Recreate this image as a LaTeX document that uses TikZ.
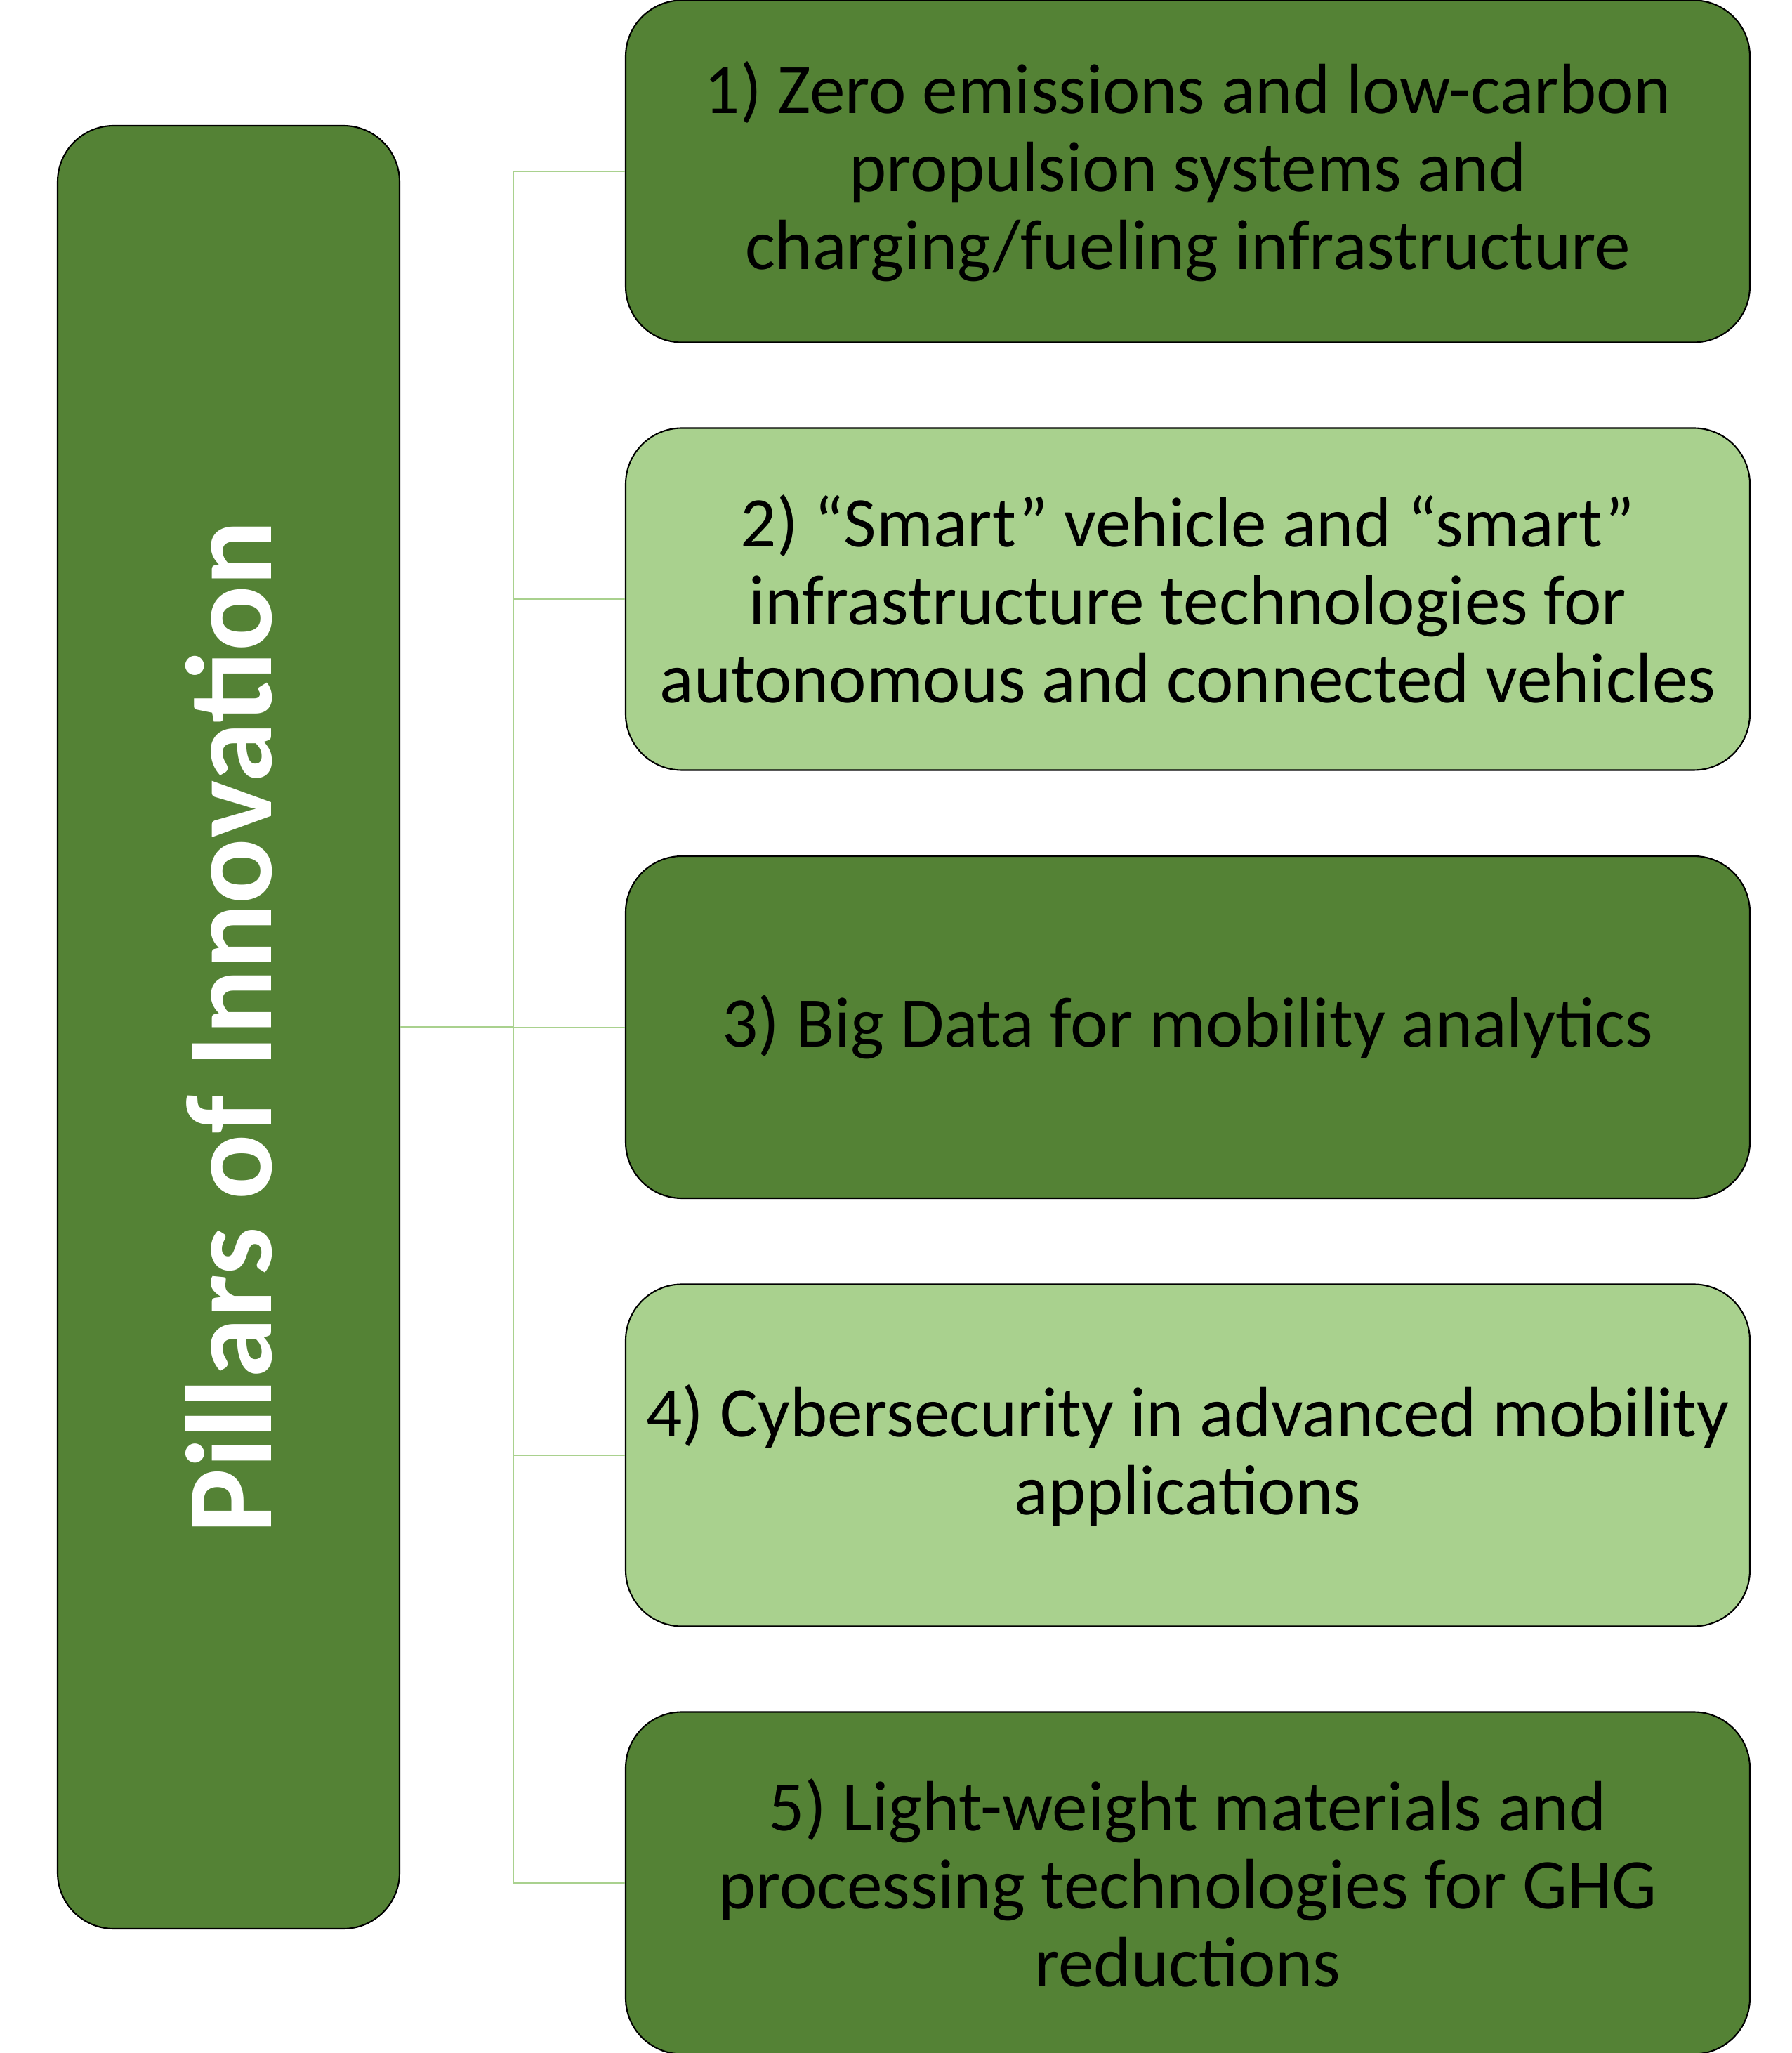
\documentclass[tikz,border=0pt]{standalone}
\usepackage{fontspec}
\setmainfont{Carlito}
\definecolor{darkleaf}{HTML}{548235}
\definecolor{lightleaf}{HTML}{A9D18E}

\begin{document}
\begin{tikzpicture}
      \tikzstyle{every node}=[draw=black,line width=0.6pt,rounded corners=0.8cm,align=center];
      \tikzstyle{pillarbox}=[fill=darkleaf,minimum width=4.87cm,minimum height=25.67cm];
      \tikzstyle{itembox}=[minimum width=16.01cm,minimum height=4.87cm,font=\fontsize{28.8}{31.6}\selectfont];
      \tikzstyle{conn}=[draw=lightleaf,line width=0.4pt];
        \useasboundingbox (0,0) rectangle (25.52,29.23);

        \path (3.255,14.605) node[pillarbox] (pillar) {};
        \path (pillar.center) node[draw=none,rotate=90,text=white,font=\fontsize{49.5}{58}\selectfont\bfseries] (title) {Pillars of Innovation};

        \path (16.915,26.79) node[itembox,fill=darkleaf] (p1) {1) Zero emissions and low-carbon\\propulsion systems and\\charging/fueling infrastructure};
        \path (16.915,20.70) node[itembox,fill=lightleaf] (p2) {2) “Smart” vehicle and “smart”\\infrastructure technologies for\\autonomous and connected vehicles};
        \path (16.915,14.605) node[itembox,fill=darkleaf] (p3) {3) Big Data for mobility analytics};
        \path (16.915,8.51) node[itembox,fill=lightleaf] (p4) {4) Cybersecurity in advanced mobility\\applications};
        \path (16.915,2.42) node[itembox,fill=darkleaf] (p5) {5) Light-weight materials and\\processing technologies for GHG\\reductions};

        \coordinate (hub) at (7.31,14.605);
        \path[conn,line width=0.7pt] (pillar.east) -- (hub);
        \path[conn] (hub) |- (p1.west);
        \path[conn] (hub) |- (p2.west);
        \path[conn] (hub) -- (p3.west);
        \path[conn] (hub) |- (p4.west);
        \path[conn] (hub) |- (p5.west);
    \end{tikzpicture}
\end{document}
